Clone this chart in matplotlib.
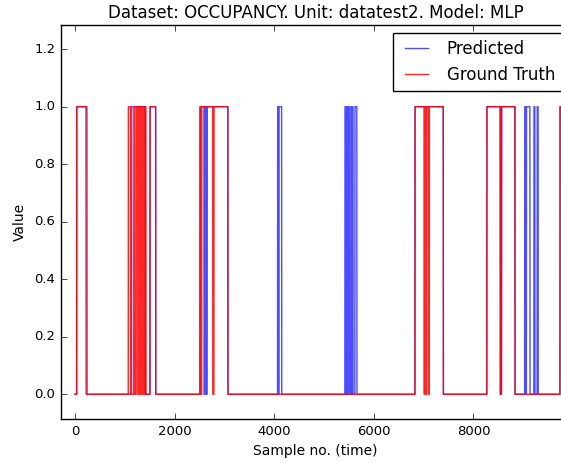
import numpy as np
import matplotlib
matplotlib.use("Agg")
import matplotlib.pyplot as plt

N_SAMPLES = 9752

# (start, end) sample ranges where the signal is 1
TRUTH_ON = [(34, 221), (1070, 1115), (1180, 1200), (1230, 1260), (1280, 1300),
            (1320, 1345), (1360, 1380), (1400, 1425), (1506, 1620),
            (2510, 2530), (2545, 2765), (2790, 3070),
            (6827, 7010), (7020, 7045), (7055, 7090), (7115, 7396),
            (8270, 8540), (8565, 8835), (9739, 9752)]
PRED_ON = [(34, 241), (1138, 1410), (1506, 1620),
           (2510, 2590), (2610, 2630), (2655, 3070),
           (4068, 4085), (4095, 4150),
           (5420, 5440), (5450, 5470), (5480, 5510), (5540, 5555), (5570, 5580), (5620, 5660),
           (6827, 7396), (8270, 8540), (8565, 8835),
           (9030, 9055), (9065, 9135), (9215, 9235), (9280, 9300), (9739, 9752)]


def to_series(ranges, n=N_SAMPLES):
    y = np.zeros(n)
    for a, b in ranges:
        y[a:b] = 1.0
    return y


def main():
    plt.style.use("classic")
    plt.rcParams["figure.facecolor"] = "white"
    plt.rcParams["savefig.facecolor"] = "white"

    x = np.arange(N_SAMPLES)
    pred = to_series(PRED_ON)
    truth = to_series(TRUTH_ON)

    fig = plt.figure(figsize=(5.61, 4.63), dpi=100)
    ax = fig.add_axes([61 / 561, 44 / 463, 509 / 561, 394 / 463])
    ax.plot(x, pred, color="b", alpha=0.7, lw=1.0, label="Predicted")
    ax.plot(x, truth, color="r", alpha=0.85, lw=1.0, label="Ground Truth")

    ax.set_xlim(-281, 9940)
    ax.set_ylim(-0.086, 1.284)
    ax.set_yticks(np.arange(0, 1.21, 0.2))
    ax.set_xticks([0, 2000, 4000, 6000, 8000])
    ax.tick_params(labelsize=9.5)
    ax.set_xlabel("Sample no. (time)", fontsize=10)
    ax.set_ylabel("Value", fontsize=10)
    ax.set_title("Dataset: OCCUPANCY. Unit: datatest2. Model: MLP", fontsize=12)
    ax.legend(loc="upper right", fontsize=12)

    fig.savefig("out.png", dpi=100)


if __name__ == "__main__":
    main()
